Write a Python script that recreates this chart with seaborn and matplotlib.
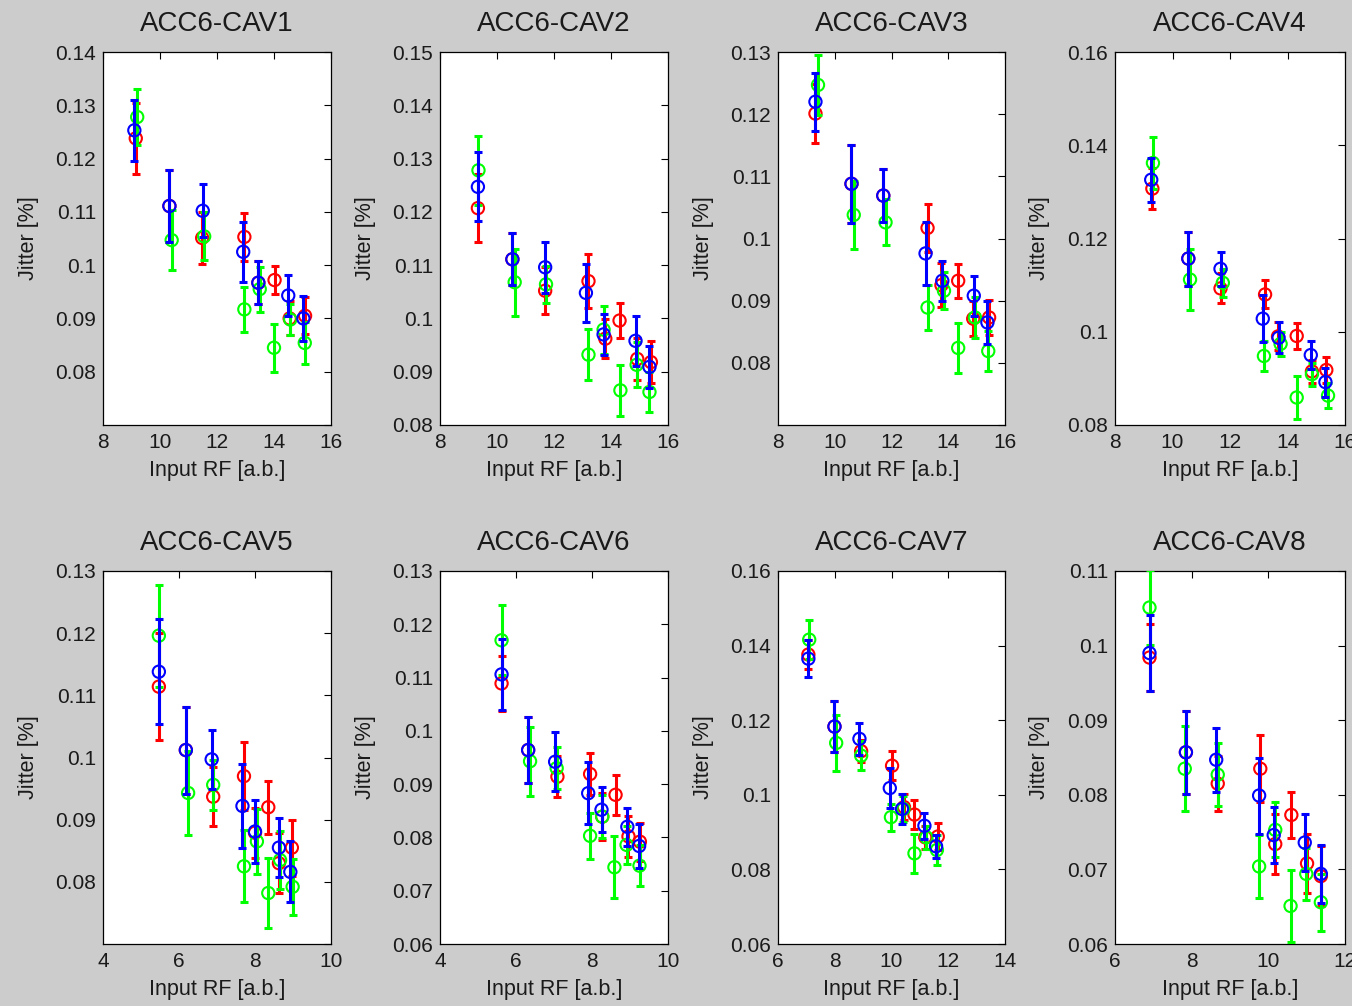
import numpy as np
import matplotlib
matplotlib.use("Agg")
import matplotlib.pyplot as plt
import seaborn as sns

############################################################## Data

titles = ["ACC6-CAV%d" % i for i in range(1, 9)]

# one list per cavity, red / green / blue series
red_x = [
    [9.15, 10.33, 11.48, 12.96, 13.45, 14.02, 14.55, 15.09],
    [9.33, 10.54, 11.69, 13.21, 13.80, 14.30, 14.92, 15.40],
    [9.32, 10.59, 11.71, 13.27, 13.76, 14.35, 14.88, 15.44],
    [9.30, 10.55, 11.67, 13.22, 13.67, 14.32, 14.85, 15.35],
    [5.47, 6.18, 6.90, 7.71, 8.00, 8.35, 8.63, 8.97],
    [5.62, 6.32, 7.09, 7.95, 8.27, 8.62, 8.96, 9.26],
    [7.07, 7.99, 8.93, 10.02, 10.44, 10.81, 11.19, 11.63],
    [6.90, 7.85, 8.68, 9.79, 10.18, 10.60, 11.01, 11.37],
]
red_y = [
    [0.1238, 0.1111, 0.1051, 0.1053, 0.0967, 0.0972, 0.0900, 0.0905],
    [0.1207, 0.1111, 0.1052, 0.1070, 0.0962, 0.0996, 0.0924, 0.0918],
    [0.1201, 0.1088, 0.1069, 0.1017, 0.0925, 0.0932, 0.0871, 0.0873],
    [0.1307, 0.1157, 0.1093, 0.1080, 0.0990, 0.0991, 0.0915, 0.0918],
    [0.1114, 0.1012, 0.0937, 0.0970, 0.0879, 0.0920, 0.0830, 0.0855],
    [0.1089, 0.0964, 0.0914, 0.0919, 0.0839, 0.0880, 0.0802, 0.0792],
    [0.1376, 0.1183, 0.1117, 0.1078, 0.0967, 0.0947, 0.0886, 0.0888],
    [0.0984, 0.0857, 0.0815, 0.0835, 0.0734, 0.0773, 0.0708, 0.0691],
]
red_err = [
    [0.0067, 0.0068, 0.0048, 0.0045, 0.0040, 0.0027, 0.0032, 0.0035],
    [0.0064, 0.0049, 0.0044, 0.0050, 0.0037, 0.0033, 0.0040, 0.0040],
    [0.0047, 0.0063, 0.0042, 0.0039, 0.0035, 0.0027, 0.0028, 0.0028],
    [0.0044, 0.0058, 0.0032, 0.0030, 0.0030, 0.0028, 0.0025, 0.0028],
    [0.0086, 0.0070, 0.0047, 0.0055, 0.0040, 0.0043, 0.0048, 0.0045],
    [0.0051, 0.0062, 0.0039, 0.0040, 0.0044, 0.0037, 0.0039, 0.0036],
    [0.0040, 0.0068, 0.0030, 0.0039, 0.0035, 0.0040, 0.0030, 0.0036],
    [0.0045, 0.0056, 0.0037, 0.0045, 0.0040, 0.0031, 0.0039, 0.0040],
]

green_x = [
    [9.20, 10.41, 11.55, 12.96, 13.50, 14.00, 14.57, 15.08],
    [9.35, 10.62, 11.72, 13.21, 13.74, 14.33, 14.90, 15.35],
    [9.41, 10.67, 11.79, 13.27, 13.85, 14.35, 14.94, 15.41],
    [9.32, 10.61, 11.75, 13.18, 13.76, 14.32, 14.85, 15.41],
    [5.47, 6.24, 6.90, 7.71, 8.05, 8.35, 8.66, 8.99],
    [5.62, 6.37, 7.07, 7.95, 8.27, 8.59, 8.91, 9.25],
    [7.10, 8.05, 8.93, 9.98, 10.42, 10.81, 11.23, 11.60],
    [6.90, 7.82, 8.68, 9.76, 10.18, 10.58, 10.99, 11.37],
]
green_y = [
    [0.1278, 0.1047, 0.1054, 0.0917, 0.0955, 0.0845, 0.0898, 0.0854],
    [0.1278, 0.1068, 0.1064, 0.0932, 0.0979, 0.0865, 0.0913, 0.0862],
    [0.1247, 0.1038, 0.1026, 0.0889, 0.0916, 0.0824, 0.0873, 0.0819],
    [0.1362, 0.1112, 0.1105, 0.0948, 0.0974, 0.0859, 0.0909, 0.0863],
    [0.1196, 0.0943, 0.0956, 0.0825, 0.0865, 0.0782, 0.0835, 0.0792],
    [0.1170, 0.0943, 0.0930, 0.0803, 0.0839, 0.0744, 0.0786, 0.0747],
    [0.1416, 0.1139, 0.1105, 0.0940, 0.0962, 0.0843, 0.0886, 0.0852],
    [0.1051, 0.0835, 0.0827, 0.0704, 0.0753, 0.0651, 0.0694, 0.0656],
]
green_err = [
    [0.0052, 0.0057, 0.0045, 0.0042, 0.0042, 0.0045, 0.0030, 0.0039],
    [0.0065, 0.0063, 0.0035, 0.0048, 0.0045, 0.0048, 0.0042, 0.0038],
    [0.0048, 0.0055, 0.0037, 0.0036, 0.0030, 0.0040, 0.0033, 0.0032],
    [0.0055, 0.0065, 0.0030, 0.0033, 0.0025, 0.0047, 0.0025, 0.0027],
    [0.0082, 0.0067, 0.0040, 0.0058, 0.0052, 0.0057, 0.0046, 0.0045],
    [0.0066, 0.0065, 0.0040, 0.0043, 0.0040, 0.0058, 0.0036, 0.0038],
    [0.0052, 0.0075, 0.0039, 0.0036, 0.0035, 0.0052, 0.0030, 0.0039],
    [0.0050, 0.0057, 0.0042, 0.0042, 0.0037, 0.0048, 0.0035, 0.0038],
]

blue_x = [
    [9.10, 10.33, 11.50, 12.92, 13.45, 14.50, 15.03],
    [9.33, 10.54, 11.69, 13.12, 13.74, 14.86, 15.35],
    [9.32, 10.59, 11.71, 13.20, 13.79, 14.90, 15.38],
    [9.26, 10.55, 11.67, 13.14, 13.69, 14.81, 15.32],
    [5.47, 6.18, 6.86, 7.67, 8.00, 8.63, 8.93],
    [5.62, 6.32, 7.03, 7.90, 8.25, 8.93, 9.24],
    [7.07, 7.99, 8.87, 9.94, 10.37, 11.16, 11.57],
    [6.90, 7.85, 8.64, 9.76, 10.14, 10.95, 11.37],
]
blue_y = [
    [0.1253, 0.1111, 0.1102, 0.1025, 0.0967, 0.0943, 0.0900],
    [0.1247, 0.1111, 0.1096, 0.1048, 0.0970, 0.0958, 0.0909],
    [0.1220, 0.1088, 0.1069, 0.0976, 0.0932, 0.0908, 0.0865],
    [0.1326, 0.1157, 0.1135, 0.1028, 0.0987, 0.0950, 0.0892],
    [0.1138, 0.1012, 0.0997, 0.0922, 0.0881, 0.0855, 0.0816],
    [0.1106, 0.0964, 0.0942, 0.0883, 0.0852, 0.0820, 0.0784],
    [0.1365, 0.1183, 0.1150, 0.1018, 0.0962, 0.0917, 0.0862],
    [0.0990, 0.0857, 0.0847, 0.0799, 0.0746, 0.0736, 0.0694],
]
blue_err = [
    [0.0057, 0.0068, 0.0050, 0.0056, 0.0040, 0.0039, 0.0042],
    [0.0065, 0.0049, 0.0048, 0.0055, 0.0039, 0.0047, 0.0039],
    [0.0047, 0.0063, 0.0042, 0.0050, 0.0032, 0.0032, 0.0034],
    [0.0047, 0.0058, 0.0037, 0.0050, 0.0033, 0.0030, 0.0031],
    [0.0084, 0.0070, 0.0047, 0.0067, 0.0051, 0.0048, 0.0049],
    [0.0066, 0.0062, 0.0055, 0.0058, 0.0042, 0.0036, 0.0041],
    [0.0049, 0.0068, 0.0043, 0.0054, 0.0040, 0.0035, 0.0031],
    [0.0051, 0.0056, 0.0043, 0.0051, 0.0037, 0.0038, 0.0039],
]

# axis limits / tick steps per panel
x_limits = [(8, 16), (8, 16), (8, 16), (8, 16), (4, 10), (4, 10), (6, 14), (6, 12)]
y_limits = [(0.07, 0.14), (0.08, 0.15), (0.07, 0.13), (0.08, 0.16),
            (0.07, 0.13), (0.06, 0.13), (0.06, 0.16), (0.06, 0.11)]
y_steps = [0.01, 0.01, 0.01, 0.02, 0.01, 0.01, 0.02, 0.01]
y_hidden_bottom = [True, False, True, False, True, False, False, False]

############################################################## Plot

sns.set_theme(style="white")
plt.rcParams['font.family'] = ['Liberation Sans', 'DejaVu Sans']

W, H = 1352, 1006
fig = plt.figure(figsize=(W / 100, H / 100), dpi=100)
fig.patch.set_facecolor('#cccccc')

col_left = [103, 440, 778, 1115]
col_right = [331, 668, 1005, 1345]
row_top = [52, 571]
row_bottom = [425, 944]

series = [("#ff0000", red_x, red_y, red_err, 2),
          ("#00ff00", green_x, green_y, green_err, 3),
          ("#0000ff", blue_x, blue_y, blue_err, 4)]

text_col = '#1a1a1a'

for i in range(8):
    r, c = divmod(i, 4)
    l, rr = col_left[c], col_right[c]
    t, b = row_top[r], row_bottom[r]
    ax = fig.add_axes([l / W, 1 - b / H, (rr - l) / W, (b - t) / H])
    ax.set_facecolor('white')

    for color, xs, ys, es, z in series:
        ax.errorbar(xs[i], ys[i], yerr=es[i], fmt='none', ecolor=color,
                    elinewidth=2.2, capsize=3, capthick=2.2, zorder=z)
        sns.scatterplot(x=xs[i], y=ys[i], ax=ax, marker='o', s=78,
                        facecolors='none', edgecolor=color, linewidth=1.5,
                        zorder=z + 0.5)

    x0, x1 = x_limits[i]
    y0, y1 = y_limits[i]
    ax.set_xlim(x0, x1)
    ax.set_ylim(y0, y1)
    ax.set_xticks(np.arange(x0, x1 + 1, 2))
    ax.set_xticklabels([str(v) for v in range(x0, x1 + 1, 2)])
    yt = [round(v, 2) for v in np.arange(y0, y1 + 1e-9, y_steps[i])]
    if y_hidden_bottom[i]:
        ylabs = [""] + ["%g" % v for v in yt[1:]]
    else:
        ylabs = ["%g" % v for v in yt]
    ax.set_yticks(yt)
    ax.set_yticklabels(ylabs)

    ax.tick_params(direction='in', length=5, width=0.8, top=True, right=True,
                   labelsize=15, colors='black', labelcolor=text_col)
    ax.tick_params(axis='x', pad=6)
    ax.tick_params(axis='y', pad=5)
    for s in ax.spines.values():
        s.set_color('black')
        s.set_linewidth(0.9)

    ax.set_title(titles[i], fontsize=20, color=text_col, pad=15)
    ax.set_xlabel("Input RF [a.b.]", fontsize=15.5, color=text_col)
    ax.set_ylabel("Jitter [%]", fontsize=15.5, color=text_col)
    ax.xaxis.set_label_coords(0.5, -35 / 373)
    ax.yaxis.set_label_coords(-64 / 228, 0.5)

fig.savefig("out.png", dpi=100, facecolor=fig.get_facecolor())
